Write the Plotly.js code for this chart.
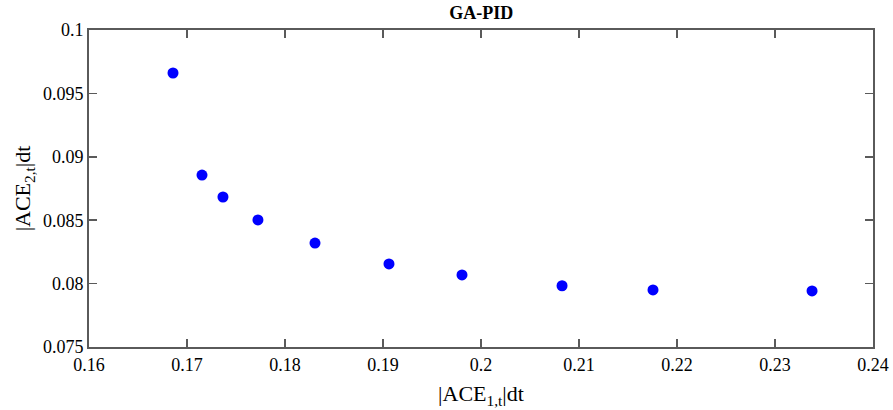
<!DOCTYPE html>
<html>
<head>
<meta charset="utf-8">
<script src="https://cdn.plot.ly/plotly-3.0.1.min.js"></script>
<style>html,body{margin:0;padding:0;background:#fff;}#chart{width:893px;height:410px;}</style>
</head>
<body>
<div id="chart"></div>
<script>
const ace1 = [0.16857, 0.17153, 0.17367, 0.17724, 0.18306, 0.19061, 0.19806, 0.20827, 0.21755, 0.23378];
const ace2 = [0.09661, 0.08856, 0.08683, 0.08502, 0.08320, 0.08155, 0.08068, 0.07983, 0.07950, 0.07942];
const titleText = "GA-PID";
const xLabel = "|ACE<sub>1,t</sub>|dt";
const yLabel = "|ACE<sub>2,t</sub>|dt";

const serif = "'Liberation Serif', 'DejaVu Serif', serif";
const axisCommon = {
  showgrid: false, zeroline: false,
  showline: true, linecolor: "#5a5a5a", linewidth: 2, mirror: "ticks",
  ticks: "inside", ticklen: 8, tickwidth: 1.5, tickcolor: "#5a5a5a",
  tickfont: {family: serif, size: 18, color: "#000"}
};
Plotly.newPlot("chart", [{
  x: ace1, y: ace2, type: "scatter", mode: "markers",
  marker: {color: "#0000ff", size: 11, symbol: "circle"}
}], {
  width: 893, height: 410,
  margin: {l: 89, r: 20, t: 30, b: 63},
  paper_bgcolor: "#fff", plot_bgcolor: "#fff",
  showlegend: false,
  font: {family: serif, color: "#000"},
  title: {text: "<b>" + titleText + "</b>", font: {family: serif, size: 18, color: "#000"}, x: 0.539, xanchor: "center", y: 0.968, yanchor: "middle"},
  xaxis: Object.assign({}, axisCommon, {range: [0.16, 0.24], dtick: 0.01, tick0: 0.16,
    title: {text: xLabel, font: {family: serif, size: 22, color: "#000"}, standoff: 12}}),
  yaxis: Object.assign({}, axisCommon, {range: [0.075, 0.1], dtick: 0.005, tick0: 0.075,
    title: {text: yLabel, font: {family: serif, size: 22, color: "#000"}, standoff: 6}})
}, {displayModeBar: false, staticPlot: true});
</script>
</body>
</html>
